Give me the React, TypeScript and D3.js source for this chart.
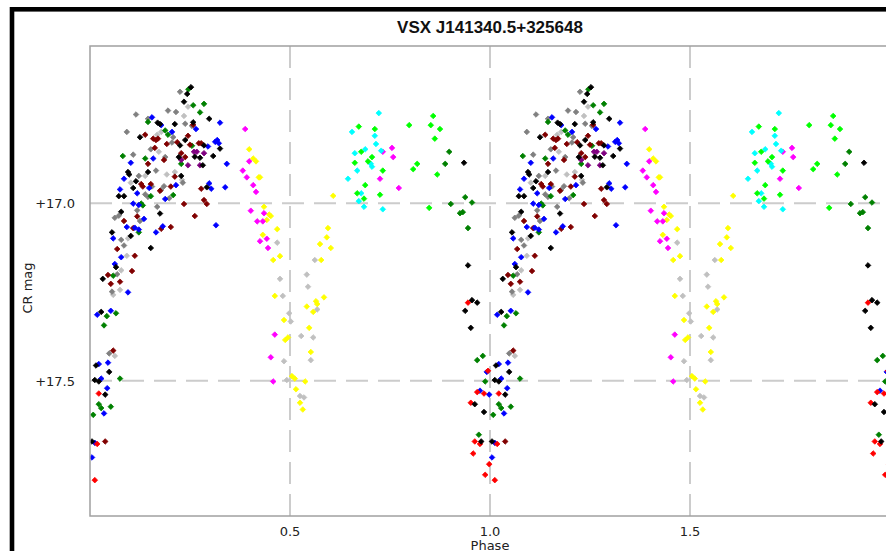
import React from 'react';
import * as d3 from 'd3';

// phase-folded light curve, values read for phase 0..1 and drawn twice (phase, phase+1)
type Pt = [number, number]; // [phase, mag]

const chartTitle = 'VSX J141340.5+325648';
const xTicks = [0.5, 1.0, 1.5];
const yTicks = [17.0, 17.5];

const blackPts: Pt[] = [
  [0.2525, 16.673], [0.235, 16.714], [0.243, 16.692], [0.298, 16.762], [0.169, 16.773],
  [0.175, 16.777], [0.212, 16.777], [0.258, 16.772], [0.125, 16.814], [0.238, 16.822],
  [0.285, 16.837], [0.225, 16.837], [0.325, 16.846], [0.222, 16.87], [0.262, 16.869],
  [0.275, 16.872], [0.308, 16.867], [0.282, 16.893], [0.145, 16.912], [0.095, 16.912],
  [0.098, 16.919], [0.228, 16.923], [0.115, 16.938], [0.292, 16.955], [0.108, 16.957],
  [0.072, 16.98], [0.085, 16.98], [0.078, 17.024], [0.175, 17.029], [0.055, 17.082],
  [0.102, 17.092], [0.152, 17.126], [0.065, 17.18], [0.032, 17.213], [0.028, 17.306],
  [0.015, 17.457], [0.048, 17.475], [0.012, 17.498], [0.022, 17.502], [0.038, 17.539],
  [0.005, 17.671], [0.935, 16.886], [0.945, 17.175], [0.955, 17.273], [0.968, 17.28],
  [0.938, 17.303], [0.952, 17.351], [0.962, 17.566], [0.985, 17.588], [0.978, 17.671],
];

const bluePts: Pt[] = [
  [0.155, 16.758], [0.178, 16.78], [0.325, 16.773], [0.205, 16.799], [0.265, 16.791],
  [0.295, 16.84], [0.313, 16.827], [0.318, 16.822], [0.322, 16.831], [0.342, 16.889],
  [0.102, 16.886], [0.158, 16.874], [0.085, 16.931], [0.215, 16.949], [0.298, 16.944],
  [0.303, 16.959], [0.338, 16.955], [0.148, 16.957], [0.075, 16.961], [0.118, 16.972],
  [0.188, 16.988], [0.108, 17.001], [0.122, 17.005], [0.135, 17.044], [0.092, 17.067],
  [0.112, 17.069], [0.122, 17.074], [0.182, 17.065], [0.315, 17.062], [0.165, 17.082],
  [0.058, 17.099], [0.078, 17.152], [0.062, 17.171], [0.095, 17.251], [0.018, 17.314],
  [0.052, 17.303], [0.022, 17.453], [0.045, 17.449], [0.028, 17.494], [0.043, 17.521],
  [0.035, 17.592], [0.012, 17.675], [0.005, 17.716], [0.992, 17.475], [0.975, 17.528],
  [0.998, 17.539],
];

const darkRedPts: Pt[] = [
  [0.258, 16.779], [0.138, 16.807], [0.245, 16.81], [0.158, 16.818], [0.165, 16.822],
  [0.17, 16.818], [0.218, 16.828], [0.192, 16.833], [0.25, 16.835], [0.272, 16.831],
  [0.278, 16.831], [0.162, 16.844], [0.228, 16.859], [0.238, 16.87], [0.185, 16.878],
  [0.145, 16.889], [0.212, 16.925], [0.128, 16.946], [0.132, 16.953], [0.152, 16.946],
  [0.202, 16.953], [0.278, 16.959], [0.175, 16.965], [0.285, 16.991], [0.292, 17.002],
  [0.235, 17.002], [0.118, 17.037], [0.262, 17.036], [0.085, 17.05], [0.108, 17.07],
  [0.202, 17.067], [0.178, 17.072], [0.068, 17.129], [0.112, 17.148], [0.105, 17.191],
  [0.045, 17.202], [0.052, 17.227], [0.075, 17.221], [0.058, 17.415], [0.038, 17.671],
];

const purplePts: Pt[] = [
  [0.26, 16.855], [0.267, 16.855], [0.285, 16.859], [0.228, 16.878], [0.245, 16.893],
  [0.275, 16.893],
];

const grayPts: Pt[] = [
  [0.225, 16.686], [0.115, 16.75], [0.195, 16.739], [0.145, 16.762], [0.092, 16.799],
  [0.215, 16.743], [0.238, 16.776], [0.255, 16.782], [0.208, 16.814], [0.205, 16.829],
  [0.152, 16.848], [0.108, 16.863], [0.188, 16.87], [0.165, 16.908], [0.122, 16.923],
  [0.232, 16.942], [0.155, 16.953], [0.138, 16.975], [0.145, 16.982], [0.185, 16.952],
  [0.178, 16.962], [0.198, 16.986], [0.168, 17.01], [0.118, 17.02], [0.072, 17.035],
  [0.062, 17.041], [0.125, 17.05], [0.078, 17.103], [0.085, 17.119], [0.068, 17.2],
  [0.055, 17.249], [0.048, 17.423],
];

const lightGrayPts: Pt[] = [
  [0.245, 16.728], [0.235, 16.754], [0.178, 16.799], [0.168, 16.807], [0.172, 16.855],
  [0.192, 16.919], [0.138, 16.923], [0.212, 16.912], [0.102, 16.942], [0.23, 16.934],
  [0.095, 17.099], [0.092, 17.148], [0.078, 17.189], [0.075, 17.244], [0.058, 17.258],
  [0.062, 17.43], [0.468, 17.111], [0.475, 17.213], [0.482, 17.261], [0.498, 17.31],
  [0.502, 17.333], [0.558, 17.378], [0.485, 17.445], [0.492, 17.498], [0.525, 17.543],
  [0.535, 17.547], [0.552, 17.442], [0.568, 17.299], [0.545, 17.235], [0.542, 17.201],
  [0.562, 17.16], [0.528, 17.374],
];

const greenPts: Pt[] = [
  [0.246, 16.679], [0.258, 16.724], [0.285, 16.72], [0.275, 16.744], [0.145, 16.771],
  [0.188, 16.795], [0.195, 16.807], [0.255, 16.838], [0.228, 16.889], [0.082, 16.867],
  [0.138, 16.874], [0.152, 16.98], [0.208, 16.977], [0.128, 17.001], [0.132, 17.006],
  [0.122, 17.082], [0.058, 17.204], [0.042, 17.318], [0.065, 17.31], [0.035, 17.344],
  [0.075, 17.494], [0.022, 17.566], [0.028, 17.577], [0.052, 17.573], [0.008, 17.596],
  [0.968, 17.442], [0.982, 17.43], [0.988, 17.502], [0.972, 17.652], [0.898, 16.855],
  [0.888, 16.889], [0.938, 16.983], [0.955, 16.998], [0.902, 17.002], [0.925, 17.028],
  [0.932, 17.025], [0.945, 17.07],
];

const redPts: Pt[] = [
  [0.022, 17.536], [0.018, 17.678], [0.012, 17.78], [0.945, 17.28], [0.995, 17.472],
  [0.968, 17.532], [0.985, 17.536], [0.952, 17.562], [0.962, 17.671], [0.975, 17.678],
  [0.958, 17.705], [0.998, 17.735], [0.988, 17.765],
];

const magentaPts: Pt[] = [
  [0.388, 16.791], [0.398, 16.882], [0.382, 16.908], [0.392, 16.927], [0.408, 16.949],
  [0.415, 16.968], [0.402, 17.021], [0.435, 17.028], [0.418, 17.051], [0.432, 17.051],
  [0.442, 17.1], [0.425, 17.107], [0.445, 17.126], [0.462, 17.37], [0.452, 17.434],
  [0.458, 17.502], [0.755, 16.844], [0.732, 16.855], [0.758, 16.87], [0.725, 16.931],
  [0.772, 16.957],
];

const yellowPts: Pt[] = [
  [0.398, 16.848], [0.408, 16.874], [0.415, 16.882], [0.422, 16.927], [0.425, 16.927],
  [0.435, 17.01], [0.448, 17.032], [0.452, 17.036], [0.442, 17.047], [0.468, 17.073],
  [0.432, 17.089], [0.475, 17.149], [0.458, 17.16], [0.462, 17.261], [0.485, 17.329],
  [0.488, 17.385], [0.495, 17.378], [0.505, 17.487], [0.512, 17.494], [0.538, 17.502],
  [0.515, 17.524], [0.525, 17.562], [0.532, 17.581], [0.552, 17.419], [0.548, 17.351],
  [0.558, 17.306], [0.565, 17.276], [0.568, 17.284], [0.585, 17.265], [0.542, 17.291],
  [0.578, 17.16], [0.575, 17.115], [0.592, 17.096], [0.602, 17.126], [0.595, 17.07],
  [0.608, 16.979],
];

const cyanPts: Pt[] = [
  [0.722, 16.746], [0.655, 16.799], [0.712, 16.81], [0.715, 16.833], [0.662, 16.859],
  [0.688, 16.848], [0.728, 16.852], [0.702, 16.889], [0.705, 16.897], [0.668, 16.908],
  [0.645, 16.931], [0.678, 16.972], [0.672, 16.994], [0.685, 17.01], [0.732, 17.017],
];

const limePts: Pt[] = [
  [0.672, 16.784], [0.712, 16.791], [0.678, 16.855], [0.705, 16.87], [0.662, 16.886],
  [0.695, 16.882], [0.732, 16.908], [0.688, 16.949], [0.668, 16.972], [0.725, 16.976],
  [0.685, 16.987], [0.798, 16.78], [0.858, 16.754], [0.852, 16.78], [0.875, 16.791],
  [0.862, 16.818], [0.818, 16.889], [0.808, 16.904], [0.868, 16.919], [0.848, 17.013],
];

const seriesList = [
  { color: '#c0c0c0', pts: lightGrayPts },
  { color: '#808080', pts: grayPts },
  { color: '#ffff00', pts: yellowPts },
  { color: '#ff00ff', pts: magentaPts },
  { color: '#00ffff', pts: cyanPts },
  { color: '#00ff00', pts: limePts },
  { color: '#008000', pts: greenPts },
  { color: '#800000', pts: darkRedPts },
  { color: '#800080', pts: purplePts },
  { color: '#0000ff', pts: bluePts },
  { color: '#ff0000', pts: redPts },
  { color: '#000000', pts: blackPts },
];

const W = 886;
const H = 551;
const plotLeft = 90;
const plotRight = 890;
const plotTop = 46;
const plotBottom = 516;

const marker = (cx: number, cy: number, r = 2.8) =>
  `M${cx},${cy - r}L${cx + r},${cy}L${cx},${cy + r}L${cx - r},${cy}Z`;

export default function App() {
  const x = d3.scaleLinear().domain([0, 2]).range([plotLeft, plotRight]);
  const y = d3.scaleLinear().domain([16.557, 17.881]).range([plotTop, plotBottom]);

  const tickFont = '"DejaVu Sans", sans-serif';

  return (
    <svg
      width={W}
      height={H}
      style={{ position: 'absolute', left: 0, top: 0, background: '#ffffff' }}
    >
      <defs>
        <clipPath id="plotClip">
          <rect x={plotLeft} y={plotTop} width={plotRight - plotLeft} height={plotBottom - plotTop} />
        </clipPath>
      </defs>

      {/* outer window frame */}
      <rect x={12} y={9.3} width={W + 20} height={H + 20} fill="none" stroke="#000" strokeWidth={4.6} />

      <text
        x={(plotLeft + plotRight) / 2}
        y={33}
        textAnchor="middle"
        fontFamily='"Liberation Sans", Arial, sans-serif'
        fontWeight="bold"
        fontSize={17}
        fill="#111"
      >
        {chartTitle}
      </text>

      <g clipPath="url(#plotClip)">
        {xTicks.map((t) => (
          <line
            key={'gx' + t}
            x1={x(t)}
            x2={x(t)}
            y1={plotTop}
            y2={plotBottom}
            stroke="#cccccc"
            strokeWidth={2}
            strokeDasharray="22,10"
          />
        ))}
        {yTicks.map((t) => (
          <line
            key={'gy' + t}
            x1={plotLeft}
            x2={plotRight}
            y1={y(t)}
            y2={y(t)}
            stroke="#cccccc"
            strokeWidth={2}
            strokeDasharray="22,10"
          />
        ))}

        {seriesList.map((s) =>
          s.pts.flatMap(([p, m], i) =>
            [0, 1].map((cycle) => (
              <path
                key={s.color + i + '-' + cycle}
                d={marker(x(p + cycle), y(m))}
                fill={s.color}
                stroke={s.color}
                strokeWidth={0.8}
              />
            )),
          ),
        )}
      </g>

      <rect
        x={plotLeft}
        y={plotTop}
        width={plotRight - plotLeft + 10}
        height={plotBottom - plotTop}
        fill="none"
        stroke="#a0a0a0"
        strokeWidth={1.5}
      />

      {yTicks.map((t) => (
        <text
          key={'ty' + t}
          x={75}
          y={y(t) + 5}
          textAnchor="end"
          fontFamily={tickFont}
          fontSize={13}
          fill="#222"
        >
          {'+' + t.toFixed(1)}
        </text>
      ))}
      {xTicks.map((t) => (
        <text
          key={'tx' + t}
          x={x(t)}
          y={536}
          textAnchor="middle"
          fontFamily={tickFont}
          fontSize={13}
          fill="#222"
        >
          {t.toFixed(1)}
        </text>
      ))}

      <text
        x={(plotLeft + plotRight) / 2}
        y={550}
        textAnchor="middle"
        fontFamily={tickFont}
        fontSize={13}
        fill="#222"
      >
        Phase
      </text>
      <text
        transform="translate(32,288) rotate(-90)"
        textAnchor="middle"
        fontFamily={tickFont}
        fontSize={13}
        fill="#222"
      >
        CR mag
      </text>
    </svg>
  );
}
